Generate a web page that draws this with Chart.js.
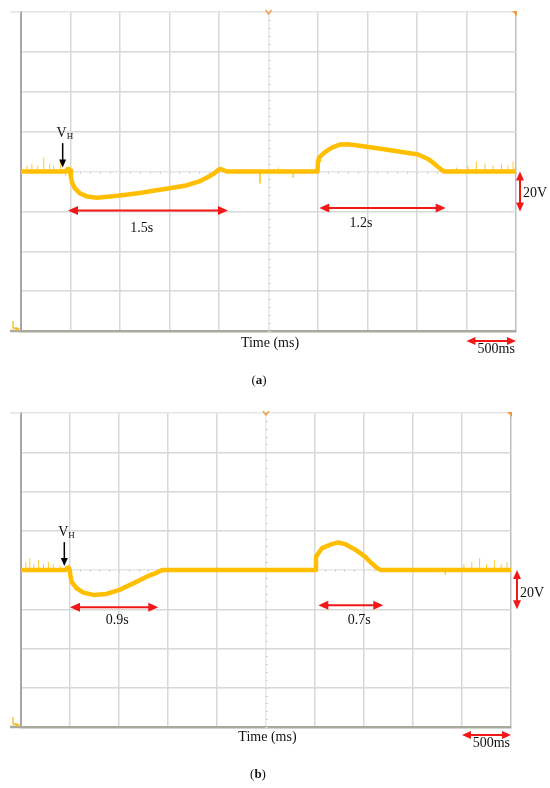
<!DOCTYPE html>
<html><head><meta charset="utf-8">
<script src="https://cdn.jsdelivr.net/npm/chart.js@4.4.1/dist/chart.umd.min.js"></script>
<style>
html,body{margin:0;padding:0;background:#fff;}
#wrap{position:relative;width:550px;height:788px;background:#fff;}
canvas{position:absolute;left:0;}
</style></head><body>
<div id="wrap">
<canvas id="ca" width="550" height="390" style="top:0px"></canvas>
<canvas id="cb" width="550" height="398" style="top:390px"></canvas>
</div>
<script>
// ---- grid divisions (ms / V) ----
const gridTimes = [0,500,1000,1500,2000,2500,3000,3500,4000,4500,5000];
const gridVolts = [-80,-60,-40,-20,0,20,40,60,80];

// ---- panel (a) trace ----
const traceA_t = [0,455,470,485,495,505,515,545,595,665,765,900,1000,1200,1400,1500,1670,1800,1880,1950,1985,2010,2050,2080,2995,3000,3010,3070,3140,3220,3300,3400,3510,3750,4010,4110,4160,4215,4250,4275,5000];
const traceA_v = [0,0,1.2,1.3,0.5,-3,-5.5,-8.5,-11,-12.5,-13.2,-12.5,-12,-10.8,-9.2,-8.4,-7,-5,-3,-1,0.5,1.3,0.6,0,0,5.5,7,9.7,12,13.5,13.7,13,12.3,10.5,8.5,6.3,4.5,2.2,0.8,0,0];
const spikeA_t = [60,110,170,230,290,330,400,450,2415,2600,2750,4400,4515,4600,4687,4768,4855,4919,4970];
const spikeA_v = [3,4,3,7,4,3,5,-2,-6,2,-3,2,3,5,4,3,4,3,5];

// ---- panel (b) trace ----
const traceB_t = [0,455,470,485,495,505,517,568,636,738,874,1010,1146,1283,1380,1418,1450,2995,3000,3010,3068,3170,3238,3306,3408,3510,3578,3640,3670,5000];
const traceB_v = [0,0,1,1.2,0.5,-3,-6,-9.3,-11.5,-12.7,-12.2,-10,-6.8,-3.4,-1.5,-0.5,0,0,0,6.8,11,13.2,14,13.2,10.5,6.8,3.4,0.8,0,0];
const spikeB_t = [50,90,130,180,230,280,330,400,2000,4330,4520,4600,4680,4750,4830,4900,4960];
const spikeB_v = [4,6,3,5,3,4,3,2,1.5,-2.5,3,4,6,3,5,3,4];

// ---- annotations (data units) ----
const spanLabelsA = ["1.5s","1.2s"];
const spanStartA = [475,3013];
const spanEndA = [2090,4290];
const spanLevelA = [-19.5,-18.3];
const spanLabelTA = [1219,3434];
const spanLabelVA = [-28.7,-25.8];

const spanLabelsB = ["0.9s","0.7s"];
const spanStartB = [500,3034];
const spanEndB = [1401,3697];
const spanLevelB = [-19,-18];
const spanLabelTB = [983,3452];
const spanLabelVB = [-25.6,-25.6];

const axisTitle = "Time (ms)";
const scaleVLabel = "20V";
const scaleTLabel = "500ms";
const markerLabel = "V";
const markerSub = "H";
const captions = ["a","b"];

const SERIF = '"Liberation Serif","Times New Roman",serif';

function head(ctx,x,y,ang,len,w,color){
  ctx.save();ctx.translate(x,y);ctx.rotate(ang);
  ctx.beginPath();ctx.moveTo(0,0);ctx.lineTo(-len,-w/2);ctx.lineTo(-len,w/2);ctx.closePath();
  ctx.fillStyle=color;ctx.fill();ctx.restore();
}
function dbl(ctx,x1,y1,x2,y2,color,lw,len,w){
  const a=Math.atan2(y2-y1,x2-x1),c=Math.cos(a),s=Math.sin(a);
  ctx.save();ctx.strokeStyle=color;ctx.lineWidth=lw;
  ctx.beginPath();ctx.moveTo(x1+c*len*0.7,y1+s*len*0.7);ctx.lineTo(x2-c*len*0.7,y2-s*len*0.7);ctx.stroke();ctx.restore();
  head(ctx,x2,y2,a,len,w,color);head(ctx,x1,y1,a+Math.PI,len,w,color);
}
function spikeData(ts,vs){
  const d=[];
  ts.forEach((t,i)=>{d.push({x:t,y:0});d.push({x:t,y:vs[i]});d.push({x:t,y:null});});
  return d;
}

function makePanel(id,o){
  const deco={
    id:'deco'+id,
    beforeDatasetsDraw(chart){
      const ctx=chart.ctx,x=chart.scales.x,y=chart.scales.y,a=chart.chartArea;
      ctx.save();ctx.strokeStyle='#d6d6d6';ctx.lineWidth=1;
      const cx=Math.round(x.getPixelForValue(2500))+0.5, cy=Math.round(y.getPixelForValue(0))+0.5;
      for(let v=-80;v<=80;v+=4){const py=Math.round(y.getPixelForValue(v))+0.5;ctx.beginPath();ctx.moveTo(cx-1.5,py);ctx.lineTo(cx+1.5,py);ctx.stroke();}
      for(let t=0;t<=5000;t+=100){const px=Math.round(x.getPixelForValue(t))+0.5;ctx.beginPath();ctx.moveTo(px,cy-1.5);ctx.lineTo(px,cy+1.5);ctx.stroke();}
      // extensions of top and bottom lines to the left
      ctx.strokeStyle='#e4e4e4';ctx.lineWidth=1.5;ctx.beginPath();ctx.moveTo(a.left-11,a.top);ctx.lineTo(a.left,a.top);ctx.stroke();
      ctx.strokeStyle='#a9a99c';ctx.lineWidth=2.5;ctx.beginPath();ctx.moveTo(a.left-11,a.bottom);ctx.lineTo(a.left,a.bottom);ctx.stroke();
      ctx.restore();
    },
    afterDraw(chart){
      const ctx=chart.ctx,x=chart.scales.x,y=chart.scales.y,a=chart.chartArea;
      ctx.save();
      // trigger markers
      ctx.strokeStyle='#f2a24a';ctx.lineWidth=1.5;
      const tx=x.getPixelForValue(2500);
      ctx.beginPath();ctx.moveTo(tx-3,a.top-2);ctx.lineTo(tx,a.top+2);ctx.lineTo(tx+3,a.top-2);ctx.stroke();
      ctx.fillStyle='#f29a3a';ctx.beginPath();ctx.moveTo(a.right-4,a.top-1);ctx.lineTo(a.right+1,a.top-1);ctx.lineTo(a.right+1,a.top+4);ctx.closePath();ctx.fill();
      // channel marker
      ctx.strokeStyle='#f7c23a';ctx.lineWidth=1.5;
      ctx.beginPath();ctx.moveTo(a.left-8,a.bottom-10);ctx.lineTo(a.left-8,a.bottom-3);ctx.lineTo(a.left-3,a.bottom-3);ctx.stroke();
      ctx.fillStyle='#f7b82a';ctx.beginPath();ctx.moveTo(a.left-7,a.bottom-3);ctx.lineTo(a.left-1,a.bottom-3);ctx.lineTo(a.left-4,a.bottom);ctx.closePath();ctx.fill();
      // span arrows
      ctx.textAlign='center';ctx.textBaseline='middle';ctx.fillStyle='#111';
      ctx.font='14px '+SERIF;
      o.spanLabels.forEach((lab,i)=>{
        const py=y.getPixelForValue(o.spanLevel[i]);
        dbl(ctx,x.getPixelForValue(o.spanStart[i]),py,x.getPixelForValue(o.spanEnd[i]),py,'#f21818',2,10,9);
        ctx.fillStyle='#111';
        ctx.fillText(lab,x.getPixelForValue(o.spanLabelT[i]),y.getPixelForValue(o.spanLabelV[i]));
      });
      // 20V scale arrow
      const vx=a.right+o.vArrowDx;
      dbl(ctx,vx,y.getPixelForValue(0),vx,y.getPixelForValue(-20),'#f21818',2,9,8);
      ctx.textAlign='left';ctx.fillStyle='#111';
      ctx.fillText(scaleVLabel,vx+3,y.getPixelForValue(o.vLabelV));
      // 500ms scale arrow
      const hy=a.bottom+o.hArrowDy;
      dbl(ctx,x.getPixelForValue(4500),hy,x.getPixelForValue(5000),hy,'#f21818',2,9,8);
      ctx.textAlign='center';
      ctx.fillText(scaleTLabel,x.getPixelForValue(4800),hy+8);
      // axis title
      ctx.fillText(axisTitle,x.getPixelForValue(2515),a.bottom+o.titleDy);
      // V_H marker
      const mx=x.getPixelForValue(o.markT);
      ctx.strokeStyle='#000';ctx.lineWidth=1.5;
      const y1=y.getPixelForValue(14.2),y2=y.getPixelForValue(2);
      ctx.beginPath();ctx.moveTo(mx,y1);ctx.lineTo(mx,y2-6);ctx.stroke();
      head(ctx,mx,y2,Math.PI/2,8,7,'#000');
      ctx.font='14px '+SERIF;ctx.textAlign='center';ctx.fillStyle='#111';
      const vy=y.getPixelForValue(19);
      ctx.fillText(markerLabel,mx-1,vy);
      ctx.font='9px '+SERIF;ctx.textAlign='left';
      ctx.fillText(markerSub,mx+4,vy+3);
      // caption
      ctx.font='13px '+SERIF;ctx.textAlign='left';
      const cap=o.caption;
      const w1=ctx.measureText('(').width;
      ctx.font='bold 13px '+SERIF;const w2=ctx.measureText(cap).width;
      ctx.font='13px '+SERIF;const w3=ctx.measureText(')').width;
      let sx=o.capX-(w1+w2+w3)/2;
      ctx.fillText('(',sx,o.capY);sx+=w1;
      ctx.font='bold 13px '+SERIF;ctx.fillText(cap,sx,o.capY);sx+=w2;
      ctx.font='13px '+SERIF;ctx.fillText(')',sx,o.capY);
      ctx.restore();
    }
  };
  return new Chart(document.getElementById(id),{
    type:'line',
    data:{datasets:[
      {data:o.t.map((t,i)=>({x:t,y:o.v[i]})),borderColor:'#ffbf00',borderWidth:4.5,pointRadius:0,tension:0,borderJoinStyle:'round',borderCapStyle:'round',order:0},
      {data:spikeData(o.st,o.sv),borderColor:'#ffc933',borderWidth:1,pointRadius:0,tension:0,spanGaps:false,order:1}
    ]},
    options:{
      responsive:false,animation:false,devicePixelRatio:1,
      layout:{padding:o.pad},
      plugins:{legend:{display:false},tooltip:{enabled:false}},
      scales:{
        x:{type:'linear',min:0,max:5000,
          afterBuildTicks:s=>{s.ticks=gridTimes.map(v=>({value:v}));},
          ticks:{display:false},
          grid:{drawTicks:false,lineWidth:1.5,color:c=>c.tick&&c.tick.value===2500?'#e8e8e8':(c.tick&&c.tick.value===5000?'#bfbfbf':'#d8d8d8')},
          border:{display:true,color:'#a9a99c',width:2.5}},
        y:{type:'linear',min:-80,max:80,
          afterBuildTicks:s=>{s.ticks=gridVolts.map(v=>({value:v}));},
          ticks:{display:false},
          grid:{drawTicks:false,lineWidth:1.5,color:c=>c.tick&&(c.tick.value===0||c.tick.value===80)?'#e6e6e6':'#d8d8d8'},
          border:{display:true,color:'#a6a6a6',width:2}}
      }
    },
    plugins:[deco]
  });
}

makePanel('ca',{t:traceA_t,v:traceA_v,st:spikeA_t,sv:spikeA_v,
  pad:{left:21,top:12,right:34,bottom:59},
  spanLabels:spanLabelsA,spanStart:spanStartA,spanEnd:spanEndA,spanLevel:spanLevelA,spanLabelT:spanLabelTA,spanLabelV:spanLabelVA,
  vArrowDx:4,vLabelV:-11,hArrowDy:10,titleDy:12,markT:421,caption:captions[0],capX:259,capY:381});
makePanel('cb',{t:traceB_t,v:traceB_v,st:spikeB_t,sv:spikeB_v,
  pad:{left:21,top:23,right:39,bottom:61},
  spanLabels:spanLabelsB,spanStart:spanStartB,spanEnd:spanEndB,spanLevel:spanLevelB,spanLabelT:spanLabelTB,spanLabelV:spanLabelVB,
  vArrowDx:6,vLabelV:-12,hArrowDy:8,titleDy:10,markT:442,caption:captions[1],capX:258,capY:385});
</script>
</body></html>
